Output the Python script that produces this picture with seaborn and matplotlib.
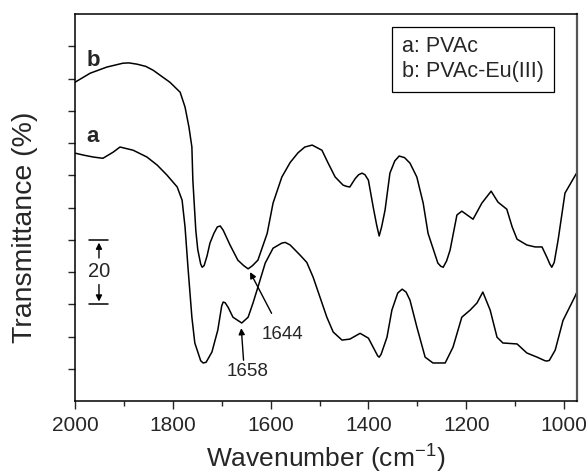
import numpy as np
import pandas as pd
import matplotlib
matplotlib.use("Agg")
import matplotlib.pyplot as plt
from matplotlib.ticker import MultipleLocator
import seaborn as sns

# spectrum b: PVAc-Eu(III)  (wavenumber, transmittance offset units)
wn_b = [2000, 1969, 1935, 1902, 1890, 1873, 1855, 1840, 1806, 1785, 1775, 1767,
        1761, 1759, 1753, 1749, 1743, 1740, 1736, 1730, 1724, 1716, 1709, 1703,
        1697, 1683, 1667, 1655, 1646, 1637, 1626, 1607, 1595, 1577, 1560, 1544,
        1530, 1515, 1495, 1483, 1468, 1452, 1445, 1438, 1427, 1420, 1413, 1407,
        1400, 1390, 1383, 1378, 1373, 1366, 1356, 1346, 1337, 1326, 1315, 1301,
        1288, 1278, 1258, 1252, 1247, 1240, 1233, 1219, 1209, 1186, 1168, 1149,
        1135, 1117, 1106, 1096, 1076, 1059, 1045, 1035, 1029, 1025, 1020, 1012,
        998, 977, 973]
t_b = [98.9, 101.7, 103.6, 104.8, 104.9, 104.5, 103.8, 102.6, 98.9, 95.8, 91.2, 85.0,
       78.8, 68.5, 53.0, 47.0, 42.5, 41.5, 42.0, 45.0, 49.0, 52.0, 54.0, 54.3,
       53.0, 48.4, 43.7, 42.0, 41.0, 42.0, 43.7, 52.0, 61.4, 69.5, 74.0, 77.0,
       78.8, 79.4, 77.8, 74.0, 69.5, 67.0, 66.6, 66.4, 69.0, 70.2, 70.7, 70.2,
       68.5, 60.0, 54.5, 51.2, 54.0, 59.2, 70.7, 74.5, 76.0, 75.5, 73.8, 69.5,
       61.4, 52.0, 42.8, 41.8, 41.5, 43.5, 46.8, 57.7, 58.9, 56.4, 61.4, 65.1,
       61.7, 59.5, 54.0, 50.2, 48.4, 47.8, 47.8, 44.6, 42.5, 41.5, 43.0, 50.0,
       64.5, 70.0, 71.0]

# spectrum a: PVAc
wn_a = [2000, 1983, 1963, 1943, 1922, 1908, 1881, 1853, 1832, 1812, 1791, 1781,
        1775, 1769, 1761, 1755, 1743, 1738, 1732, 1720, 1708, 1700, 1697, 1693,
        1687, 1677, 1659, 1646, 1636, 1626, 1611, 1595, 1577, 1570, 1560, 1540,
        1526, 1513, 1499, 1485, 1472, 1454, 1438, 1417, 1400, 1381, 1378, 1374,
        1362, 1352, 1340, 1331, 1323, 1315, 1301, 1284, 1268, 1254, 1243, 1227,
        1209, 1192, 1178, 1166, 1151, 1137, 1125, 1096, 1076, 1055, 1039, 1035,
        1030, 1018, 1002, 977, 973]
t_a = [76.9, 76.3, 75.7, 75.3, 77.2, 78.8, 77.8, 75.7, 73.2, 70.1, 66.4, 62.3,
       54.0, 41.5, 26.0, 18.0, 12.5, 11.8, 12.0, 15.2, 22.0, 29.5, 30.7, 30.5,
       29.1, 26.0, 24.2, 26.0, 30.4, 35.3, 42.8, 47.4, 49.0, 49.2, 48.4, 45.3,
       43.0, 38.4, 32.2, 26.0, 21.4, 18.9, 19.2, 21.0, 19.5, 14.0, 13.6, 14.5,
       19.8, 28.2, 33.5, 34.7, 33.8, 31.3, 23.0, 13.6, 11.8, 11.8, 11.8, 16.7,
       26.0, 28.2, 30.4, 33.8, 28.2, 19.8, 18.0, 17.7, 14.9, 13.6, 12.5, 12.4,
       12.6, 15.8, 25.0, 32.6, 34.0]

legend_lines = ["a: PVAc", "b: PVAc-Eu(III)"]
x_ticks = [2000, 1800, 1600, 1400, 1200, 1000]

sns.set_style("ticks")
plt.rcParams["font.family"] = ["Liberation Sans", "DejaVu Sans"]
plt.rcParams["mathtext.fontset"] = "custom"
plt.rcParams["mathtext.rm"] = "Liberation Sans"

df_a = pd.DataFrame({"wn": wn_a, "T": t_a})
df_b = pd.DataFrame({"wn": wn_b, "T": t_b})

fig = plt.figure(figsize=(5.86, 4.74), dpi=100)
ax = fig.add_axes([0.128, 0.154, 0.857, 0.816])

sns.lineplot(data=df_b, x="wn", y="T", color="black", lw=1.1, ax=ax)
sns.lineplot(data=df_a, x="wn", y="T", color="black", lw=1.1, ax=ax)

ax.set_xlim(2000, 973)
ax.set_ylim(0, 120)
ax.set_xticks(x_ticks)
ax.xaxis.set_minor_locator(MultipleLocator(100))
ax.set_yticks(np.arange(10, 111, 10))
ax.set_yticklabels([])
ax.tick_params(axis="x", which="major", length=6, width=1, labelsize=15, pad=5)
ax.tick_params(axis="x", which="minor", length=3.5, width=1)
ax.tick_params(axis="y", which="major", length=5, width=1)
for s in ax.spines.values():
    s.set_linewidth(1.1)
    s.set_color("black")
ax.spines["right"].set_color("#555555")
ax.spines["right"].set_linewidth(1.6)

ax.set_xlabel("Wavenumber (cm$^{-1}$)", fontsize=19, labelpad=4)
ax.set_ylabel("Transmittance (%)", fontsize=20.5)
ax.yaxis.set_label_coords(-0.074, 0.45)

# curve labels
ax.text(1963, 105.7, "b", fontsize=16, fontweight="bold", ha="center", va="center")
ax.text(1965, 82, "a", fontsize=16, fontweight="bold", ha="center", va="center")

# legend box
ax.text(0.651, 0.884, "\n".join(legend_lines), transform=ax.transAxes,
        fontsize=15.5, ha="left", va="center", linespacing=1.22,
        bbox=dict(boxstyle="square,pad=0.45", fc="white", ec="black", lw=0.9))

# scale bar (20 units)
ax.plot([1971, 1932], [50, 50], color="black", lw=1.1)
ax.plot([1971, 1932], [30, 30], color="black", lw=1.1)
ax.annotate("", xy=(1951, 50), xytext=(1951, 43.5),
            arrowprops=dict(arrowstyle="-|>", color="black", lw=1, mutation_scale=9))
ax.annotate("", xy=(1951, 30), xytext=(1951, 37),
            arrowprops=dict(arrowstyle="-|>", color="black", lw=1, mutation_scale=9))
ax.text(1951, 40.2, "20", fontsize=14.5, ha="center", va="center")

# peak annotations
ax.annotate("1644", xy=(1642, 40), xytext=(1575, 20.5), fontsize=13.5,
            ha="center", va="center",
            arrowprops=dict(arrowstyle="-|>", color="black", lw=1, mutation_scale=9,
                            shrinkA=8, shrinkB=0))
ax.annotate("1658", xy=(1660, 22.6), xytext=(1648, 9), fontsize=13.5,
            ha="center", va="center",
            arrowprops=dict(arrowstyle="-|>", color="black", lw=1, mutation_scale=9,
                            shrinkA=0, shrinkB=0, relpos=(0.42, 1.0)))

plt.savefig("out.png", dpi=100)
plt.close()
